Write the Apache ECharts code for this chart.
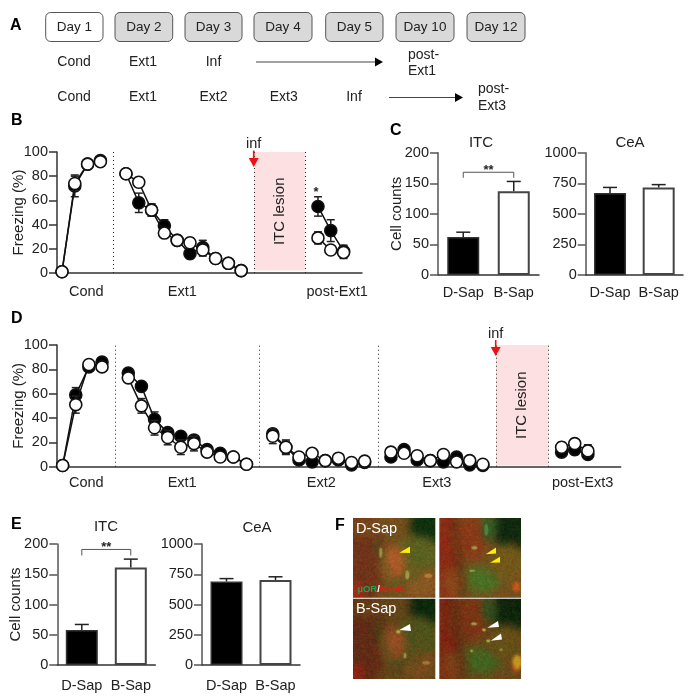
<!DOCTYPE html>
<html><head><meta charset="utf-8">
<style>html,body{margin:0;padding:0;background:#fff}#c{width:692px;height:700px}</style>
<script src="https://cdn.jsdelivr.net/npm/echarts@6/dist/echarts.min.js"></script>
</head><body><div id="c"></div>
<script>
// ---------- data ----------
const bBlack = [1,72,90,93,null,82,58,52,39,27,16,21,12,8,2,null,null,null,null,null,55,35,18];
const bWhite = [1,74,90,92,null,82,75,52,33,27,25,19,12,8,2,null,null,null,null,null,29,19,17];
const bBlackErr = [0,9,2,2,null,2,8,5,5,4,4,6,3,2,1,null,null,null,null,null,8,9,5];
const bWhiteErr = [0,6,2,2,null,2,4,5,3,3,4,5,3,2,1,null,null,null,null,null,5,2,5];
const bLabelPos = [1.9,9.4,21.5];
const bLabels = ['Cond','Ext1','post-Ext1'];
const bDividers = [4,15,19];

const dBlack = [1,59,82,86,null,77,66,39,28,25,22,14,11,8,2,null,27,16,5.5,4,5,5.5,1.5,3.5,null,8,14,5.5,5,4,8,1.5,1,null,null,null,null,null,12,14,10];
const dWhite = [1,51,84,82,null,73,50,32,24,16,19,12,8,8,2,null,25,16,8,11,5,7,3.5,4.6,null,12,11,9,5,10,4,5,2,null,null,null,null,null,16,19,13];
const dBlackErr = [0,6,2,2,null,2,3,6,3,3,3,3,2,2,1,null,3,5,2,2,2,2,2,2,null,2,2,2,2,2,2,2,2,null,null,null,null,null,3,4,3];
const dWhiteErr = [0,7,2,2,null,2,6,6,6,6,6,3,2,2,1,null,6,6,2,2,2,2,2,2,null,2,2,2,2,2,2,2,2,null,null,null,null,null,4,4,5];
const dLabelPos = [1.8,9.1,19.7,28.5,39.6];
const dLabels = ['Cond','Ext1','Ext2','Ext3','post-Ext3'];
const dDividers = [4,15,24,33,37];

const groups = ['D-Sap','B-Sap'];
const cItc = [62,137], cItcErr = [8,16];
const cCea = [670,715], cCeaErr = [46,24];
const eItc = [58,161], eItcErr = [9,14];
const eCea = [690,702], eCeaErr = [24,27];
const freezeTicks = 20, itcTicks = 50, ceaTicks = 250;
const days = ['Day 1','Day 2','Day 3','Day 4','Day 5','Day 10','Day 12'];
const row1 = ['Cond','Ext1','Inf'];
const row2 = ['Cond','Ext1','Ext2','Ext3','Inf'];

// ---------- helpers ----------
const FONT = '"Liberation Sans", Arial, sans-serif';
const INK = '#222';
const AX = '#333';
const grids = [], xAxes = [], yAxes = [], series = [];

function errSeries(g, vals, errs, cap, upOnly, z) {
  const data = [];
  vals.forEach((v,i)=>{ if (v!=null && errs[i]) data.push([i,v,errs[i]]); });
  return { type:'custom', xAxisIndex:g, yAxisIndex:g, z, silent:true, clip:false, data,
    renderItem(p,api){
      const x=api.value(0), v=api.value(1), e=api.value(2);
      const top=api.coord([x,v+e]), bot=api.coord([x,upOnly?v:v-e]);
      const st={stroke:'#222',lineWidth:1.5,fill:null};
      const ch=[
        {type:'line',shape:{x1:top[0],y1:top[1],x2:bot[0],y2:bot[1]},style:st},
        {type:'line',shape:{x1:top[0]-cap,y1:top[1],x2:top[0]+cap,y2:top[1]},style:st}];
      if(!upOnly) ch.push({type:'line',shape:{x1:bot[0]-cap,y1:bot[1],x2:bot[0]+cap,y2:bot[1]},style:st});
      return {type:'group',children:ch};
    }};
}
function lineSeries(g, vals, fill, z, extra) {
  return Object.assign({ type:'line', xAxisIndex:g, yAxisIndex:g, z, clip:false, silent:true,
    data: vals.map((v,i)=>[i, v]), symbol:'circle', symbolSize:12, showSymbol:true,
    connectNulls:false, lineStyle:{color:'#111',width:1.5},
    itemStyle:{color:fill,borderColor:'#111',borderWidth:1.6} }, extra||{});
}
function freezingPanel(box, xMin, xMax, black, white, bErr, wErr, pos, labels, dividers, area, lblMargin) {
  const g = grids.length;
  grids.push(box);
  const names = {}; pos.forEach((p,i)=>names[p]=labels[i]);
  xAxes.push({ type:'value', gridIndex:g, min:xMin, max:xMax,
    axisLine:{show:true,onZero:false,lineStyle:{color:AX,width:1.5}}, axisTick:{show:false}, splitLine:{show:false},
    axisLabel:{customValues:pos, formatter:v=>names[v]||'', margin:lblMargin, fontFamily:FONT, fontSize:14.5, color:INK, hideOverlap:false}});
  yAxes.push({ type:'value', gridIndex:g, min:0, max:100, interval:freezeTicks,
    name:'Freezing (%)', nameLocation:'middle', nameGap:31, nameMoveOverlap:false, nameTextStyle:{fontFamily:FONT,fontSize:15,color:INK},
    axisLine:{show:true,onZero:false,lineStyle:{color:AX,width:1.5}}, axisTick:{show:true,length:8,lineStyle:{color:AX,width:1.5}}, splitLine:{show:false},
    axisLabel:{margin:9,fontFamily:FONT,fontSize:14.5,color:INK}});
  series.push(errSeries(g,black,bErr,4,false,2));
  series.push(lineSeries(g,black,'#000',3,{
    markArea:{silent:true,itemStyle:{color:'#fce0e2'},
      label:{show:true,position:'inside',rotate:90,formatter:'ITC lesion',fontFamily:FONT,fontSize:15,color:INK},
      data:[[{xAxis:area[0],yAxis:area[2]},{xAxis:area[1],yAxis:100}]]},
    markLine:{silent:true,symbol:'none',animation:false,label:{show:false},
      lineStyle:{type:[1,3],color:'#222',width:1},data:dividers.map(d=>({xAxis:d}))}
  }));
  series.push(errSeries(g,white,wErr,4,false,4));
  series.push(lineSeries(g,white,'#fff',5));
}
function barPanel(box, vals, errs, max, tick, withName, bracket, lblMargin) {
  const g = grids.length;
  grids.push(box);
  xAxes.push({ type:'category', gridIndex:g, data:groups,
    axisLine:{show:true,lineStyle:{color:AX,width:1.5}}, axisTick:{show:false},
    axisLabel:{margin:lblMargin,fontFamily:FONT,fontSize:14.5,color:INK,interval:0}});
  yAxes.push({ type:'value', gridIndex:g, min:0, max, interval:tick,
    name:withName?'Cell counts':'', nameLocation:'middle', nameGap:34, nameMoveOverlap:false, nameTextStyle:{fontFamily:FONT,fontSize:15,color:INK},
    axisLine:{show:true,lineStyle:{color:'#555',width:1.5}}, axisTick:{show:true,length:8,lineStyle:{color:'#555',width:1.5}}, splitLine:{show:false},
    axisLabel:{margin:9,fontFamily:FONT,fontSize:14.5,color:INK,formatter:v=>String(v)}});
  series.push({ type:'bar', xAxisIndex:g, yAxisIndex:g, barWidth:32, silent:true, z:2,
    data:[{value:vals[0],itemStyle:{color:'#000',borderColor:'#333',borderWidth:1.5}},
          {value:vals[1],itemStyle:{color:'#fff',borderColor:'#444',borderWidth:2}}]});
  series.push(errSeries(g,vals,errs,7,true,1));
  if (bracket!=null) {
    series.push({ type:'custom', xAxisIndex:g, yAxisIndex:g, z:3, silent:true, clip:false,
      data:[[0,bracket[0],bracket[1]]],
      renderItem(p,api){
        const a=api.coord([0,api.value(1)]), b=api.coord([1,api.value(1)]), d=api.coord([0,api.value(2)]);
        return {type:'group',children:[
          {type:'polyline',shape:{points:[[a[0],d[1]],[a[0],a[1]],[b[0],a[1]],[b[0],d[1]]]},style:{stroke:'#555',lineWidth:1,fill:null}},
          {type:'text',style:{text:'**',x:(a[0]+b[0])/2,y:a[1]-2,align:'center',verticalAlign:'middle',font:'bold 13px '+FONT,fill:INK}}
        ]};
      }});
  }
}

freezingPanel({left:57,top:152,width:305,height:121},-0.39,23.44,bBlack,bWhite,bBlackErr,bWhiteErr,bLabelPos,bLabels,bDividers,[15,19,2],11);
freezingPanel({left:57,top:345,width:563.7,height:121.7},-0.43,42.5,dBlack,dWhite,dBlackErr,dWhiteErr,dLabelPos,dLabels,dDividers,[33,37,1],9);
barPanel({left:438,top:152.7,width:101,height:122.3},cItc,cItcErr,200,itcTicks,true,[168,159],10);
barPanel({left:585.7,top:152.7,width:97.3,height:122.3},cCea,cCeaErr,1000,ceaTicks,false,null,10);
barPanel({left:57.3,top:544,width:98,height:121},eItc,eItcErr,200,itcTicks,true,[191,181],13);
barPanel({left:202,top:544,width:98,height:121},eCea,eCeaErr,1000,ceaTicks,false,null,13);

// ---------- annotations ----------
const g = [];
function txt(t,x,y,o){ g.push({type:'text',x,y,silent:true,z:20,style:Object.assign({text:t,fill:INK,font:'14.5px '+FONT,align:'center',verticalAlign:'middle'},o||{})}); }
function arrow(x1,x2,y){
  g.push({type:'line',silent:true,shape:{x1,y1:y,x2:x2-8,y2:y},style:{stroke:'#444',lineWidth:1.2}});
  g.push({type:'polygon',silent:true,shape:{points:[[x2-8,y-4.5],[x2,y],[x2-8,y+4.5]]},style:{fill:'#000'}});
}
function redArrow(x,y1,y2){
  g.push({type:'line',silent:true,z:21,shape:{x1:x,y1,x2:x,y2:y2-8},style:{stroke:'#ee1111',lineWidth:1.6}});
  g.push({type:'polygon',silent:true,z:21,shape:{points:[[x-5,y2-9],[x+5,y2-9],[x,y2]]},style:{fill:'#ee1111'}});
}
const boldLetter={font:'bold 16px '+FONT,fill:'#000',align:'left'};
[['A',10,26],['B',11,121],['C',390,131],['D',11,319],['E',11,525],['F',335,526]].forEach(l=>txt(l[0],l[1],l[2],boldLetter));

const dayX=[[45.7,103],[115,172.7],[185,242],[254,312],[325.7,383],[396,454],[467,525]];
days.forEach((d,i)=>{
  g.push({type:'rect',silent:true,shape:{x:dayX[i][0],y:12.5,width:dayX[i][1]-dayX[i][0],height:29,r:5},
    style:{fill:i===0?'#fff':'#d9d9d9',stroke:'#555',lineWidth:1}});
  txt(d,(dayX[i][0]+dayX[i][1])/2,27.5,{font:'13.5px '+FONT});
});
const cellX=[74,143,213.5,283.7,354];
row1.forEach((t,i)=>txt(t,cellX[i],62,{font:'14px '+FONT}));
row2.forEach((t,i)=>txt(t,cellX[i],97.5,{font:'14px '+FONT}));
arrow(256,383,62); arrow(389,463,97.5);
txt('post-',408,55,{align:'left',font:'14px '+FONT}); txt('Ext1',408,71,{align:'left',font:'14px '+FONT});
txt('post-',478,89,{align:'left',font:'14px '+FONT}); txt('Ext3',478,106,{align:'left',font:'14px '+FONT});

txt('inf',253.7,144); redArrow(253.7,150.5,167);
txt('inf',495.7,334); redArrow(495.7,340,356);
txt('*',316,192,{font:'bold 13px '+FONT});
[['ITC',481,143],['CeA',630,143],['ITC',106,527],['CeA',257,528]].forEach(t=>txt(t[0],t[1],t[2],{font:'15px '+FONT}));

// micrograph panel F (decorative picture, drawn to a canvas)
function micrograph(){
  const W=168,H=161,cv=document.createElement('canvas');cv.width=W;cv.height=H;
  const c=cv.getContext('2d');
  function blob(x,y,rx,ry,col){c.save();c.translate(x,y);c.scale(rx,ry);c.beginPath();c.arc(0,0,1,0,7);c.fillStyle=col;c.fill();c.restore();}
  function stroke(pts,w,col){c.beginPath();pts.forEach((p,i)=>i?c.lineTo(p[0],p[1]):c.moveTo(p[0],p[1]));c.lineWidth=w;c.strokeStyle=col;c.stroke();}
  function panel(ox,oy,type,dim){
    c.save();c.beginPath();c.rect(ox,oy,82,80);c.clip();c.translate(ox,oy);
    c.fillStyle='#74501e';c.fillRect(0,0,82,80);
    c.filter='blur(4px)';
    if(type===0){
      blob(10,42,22,46,'#70341a');
      blob(78,8,22,22,'#10300f');
      blob(64,38,24,20,'#5c6020');
      blob(40,46,12,18,'#b05a28');
      blob(66,66,18,14,'#8a5822');
      stroke([[22,22],[30,45],[40,68],[66,56]],4,'#40601f');
      blob(14,10,16,10,'#7a481a');
      blob(3,74,6,8,'#c02414');
    } else {
      blob(8,35,13,50,'#8c2c16');
      blob(30,20,18,22,'#8a3a18');
      blob(74,10,22,26,'#122a0e');
      blob(50,10,7,14,'#345c24');
      blob(42,62,20,13,'#4a7024');
      blob(68,44,18,18,'#72581a');
      blob(15,65,12,14,'#8c481a');
      stroke([[14,0],[18,30],[24,80]],3,'#342e10');
    }
    c.filter='blur(1.5px)';
    if(type===1) blob(77,69,4,5,'#c85a1c');
    c.filter='none';
    c.fillStyle='rgba(0,0,0,'+dim+')';c.fillRect(0,0,82,80);
    c.restore();
  }
  panel(0,0,0,0);panel(86,0,1,0);panel(0,81,0,0.14);panel(86,81,1,0.1);
  // bright cell profiles
  c.filter='blur(0.7px)';
  [[27.4,35,1.5,5,'#9a9a48'],[54,57,2,4.5,'#9a9a48'],[75,58,4,2,'#b87a38'],[121,30,3,1.8,'#9a9a48'],[119,53,3,1.3,'#88a048'],[133,12,2,6,'#4a8a40'],
   [45,114,2.5,1.8,'#a8a848'],[51.7,138,1.3,3,'#90a048'],[73,145,4,1.8,'#a07a38'],[120.7,106,3,1.6,'#98a048'],[130.7,112,2,1.6,'#a0b048'],[135,123,2,1.6,'#a0b048'],[118.3,133,1.6,1.6,'#98a048'],[147.7,132,1.4,1.4,'#80a048']]
   .forEach(b=>{blob(b[0],b[1],b[2],b[3],b[4]);});
  c.filter='blur(1.5px)';
  blob(164,144,5,7,'#c89420');
  c.filter='none';
  // speckle texture from a fixed hash
  const im=c.getImageData(0,0,W,H),dt=im.data;
  let s=12345;
  for(let i=0;i<dt.length;i+=4){
    s=(s*1103515245+12345)&0x7fffffff; const a=((s>>16)&255)/255-0.5;
    s=(s*1103515245+12345)&0x7fffffff; const b=((s>>16)&255)/255-0.5;
    dt[i]=Math.max(0,Math.min(255,dt[i]+a*34));
    dt[i+1]=Math.max(0,Math.min(255,dt[i+1]+b*30));
  }
  c.putImageData(im,0,0);
  c.fillStyle='#fff';c.fillRect(82,0,4,H);c.fillRect(0,80,W,1);
  return cv;
}
g.push({type:'image',silent:true,x:353.3,y:517.7,z:15,style:{image:micrograph(),x:0,y:0,width:168,height:161}});
const wh='#ffffff',ye='#ffee00';
[[[399.3,552.7],[410,546.5],[410,553],ye],[[485.7,554.3],[496,547.5],[496,553.5],ye],[[490,562.7],[500,556.7],[500,562.5],ye],
 [[399.3,630],[410,624],[411,631],wh],[[487.3,627.7],[498,621],[499,627],wh],[[490.7,640.7],[501,633.5],[502,639.5],wh]]
 .forEach(t=>g.push({type:'polygon',silent:true,z:21,shape:{points:[t[0],t[1],t[2]]},style:{fill:t[3]}}));
txt('D-Sap',356,528.5,{align:'left',fill:'#fff',font:'14.5px '+FONT});
txt('B-Sap',356,609,{align:'left',fill:'#fff',font:'14.5px '+FONT});
g.push({type:'text',silent:true,z:22,x:357.5,y:584.5,style:{text:'{a|µOR}{b|/}{c|NeuN}',font:'bold 9.5px '+FONT,rich:{
  a:{fill:'#22a050',font:'bold 9.5px '+FONT},b:{fill:'#fff',font:'bold 9.5px '+FONT},c:{fill:'#e81818',font:'bold 9.5px '+FONT}}}});

const chart = echarts.init(document.getElementById('c'),null,{renderer:'canvas'});
chart.setOption({animation:false,backgroundColor:'#fff',textStyle:{fontFamily:FONT},
  grid:grids.map(b=>Object.assign({containLabel:false},b)),xAxis:xAxes,yAxis:yAxes,series,graphic:{elements:g}});
</script></body></html>
